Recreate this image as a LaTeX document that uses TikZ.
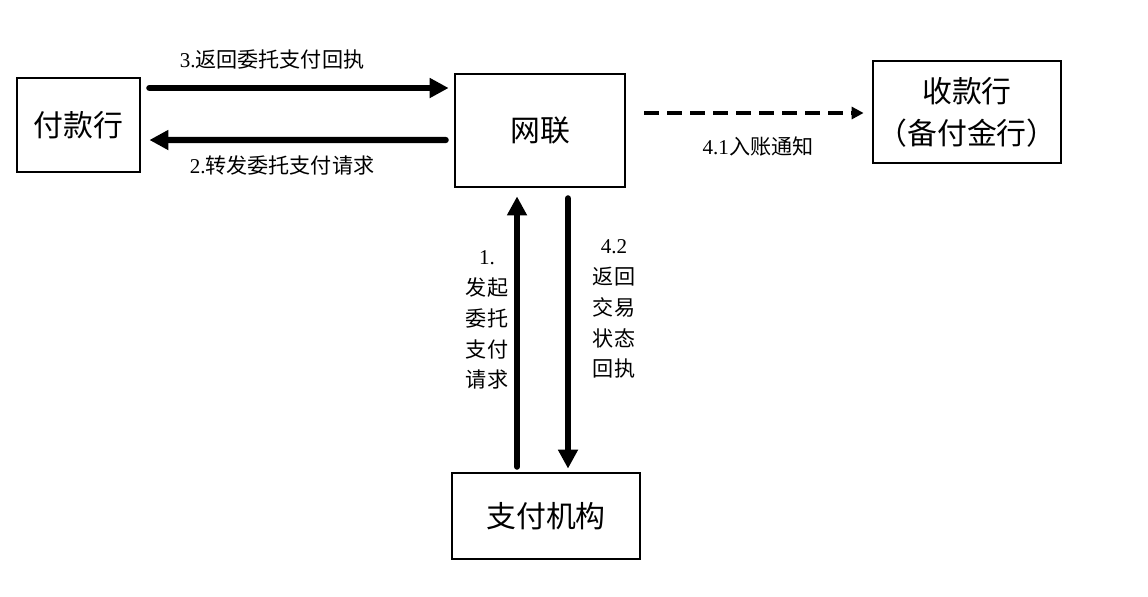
\documentclass[tikz,border=0pt]{standalone}
\usepackage{fontspec}
\setmainfont{Liberation Serif}
\newfontfamily\cjk{Noto Sans CJK SC}
\usetikzlibrary{arrows.meta}
\newcommand{\zh}[1]{{\cjk #1}}

\begin{document}
\begin{tikzpicture}[x=0.02cm,y=-0.02cm,
  box/.style={draw, line width=1.6pt, font=\cjk\fontsize{17}{24}\selectfont, align=center, inner sep=0pt},
  bigarr/.style={-{Triangle[length=0.38cm,width=0.38cm]}, line width=3.6pt, line cap=round},
  lab/.style={font=\fontsize{12}{17.6}\selectfont, align=center, inner sep=0pt}]
\useasboundingbox (0,0) rectangle (1148,596);

\node[box, minimum width=2.46cm, minimum height=1.88cm] (fk) at (78.5,125) {付款行};
\node[box, minimum width=3.4cm, minimum height=2.26cm] (wl) at (540,130.5) {网联};
\node[box, minimum width=3.76cm, minimum height=2.04cm] (sk) at (967,112) {收款行\\（备付金行）};
\node[box, minimum width=3.76cm, minimum height=1.72cm] (zf) at (546,516) {支付机构};

\draw [bigarr] ([shift={(8,-37)}]fk.east) -- ([shift={(-5,-42.5)}]wl.west);
\draw [bigarr] ([shift={(-8,9.5)}]wl.west) -- ([shift={(8,15)}]fk.east);
\draw [-{Triangle[length=0.24cm,width=0.24cm]}, line width=2.2pt, dash pattern=on 0.3cm off 0.16cm] ([shift={(18,-17.5)}]wl.east) -- ([shift={(-8,1)}]sk.west);
\draw [bigarr] ([shift={(-29,-5)}]zf.north) -- ([shift={(-23,8)}]wl.south);
\draw [bigarr] ([shift={(28,10)}]wl.south) -- ([shift={(22,-3)}]zf.north);

\node[lab] (l3) at (272,60) {3.\zh{返回委托支付回执}};
\node[lab] (l2) at (282,165) {2.\zh{转发委托支付请求}};
\node[lab] (l41) at (758,147) {4.1\zh{入账通知}};
\node[lab] (l1) at (487,320) {1.\\\zh{发起}\\\zh{委托}\\\zh{支付}\\\zh{请求}};
\node[lab] (l42) at (614,309) {4.2\\\zh{返回}\\\zh{交易}\\\zh{状态}\\\zh{回执}};

\end{tikzpicture}
\end{document}
